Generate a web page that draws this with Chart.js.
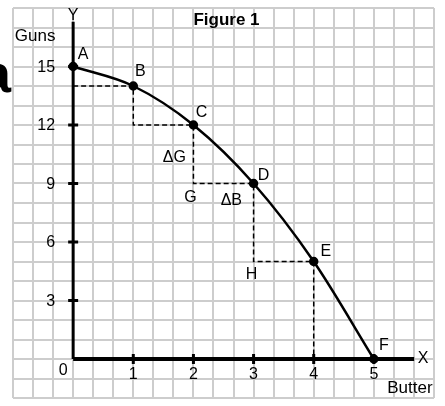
<!DOCTYPE html>
<html>
<head>
<meta charset="utf-8">
<script src="https://cdn.jsdelivr.net/npm/chart.js@4.4.0/dist/chart.umd.min.js"></script>
<style>
  html, body { margin: 0; padding: 0; background: #fff; overflow: hidden; }
  canvas { display: block; }
</style>
</head>
<body>
<canvas id="ppf" width="445" height="406"></canvas>
<script>
// production possibilities points A..F (butter, guns)
const pointNames = ['A', 'B', 'C', 'D', 'E', 'F'];
const butter = [0, 1, 2, 3, 4, 5];
const guns = [15, 14, 12, 9, 5, 0];
// dashed staircase from the Y axis through B..E down to the X axis
const stepX = [0, 1, 1, 2, 2, 3, 3, 4, 4];
const stepY = [14, 14, 12, 12, 9, 9, 5, 5, 0];
const xTickLabels = ['1', '2', '3', '4', '5'];
const yTickLabels = ['3', '6', '9', '12', '15'];

const FONT = '"Liberation Sans", Arial, sans-serif';

function pts(xs, ys) {
  return xs.map((x, i) => ({ x, y: ys[i] }));
}

// text labels placed with the scales
const labelsPlugin = {
  id: 'labels',
  afterDatasetsDraw(chart) {
    const { ctx, scales: { x, y } } = chart;
    const put = (txt, px, py, opts = {}) => {
      ctx.save();
      ctx.font = (opts.bold ? 'bold ' : '') + (opts.size || 16) + 'px ' + FONT;
      ctx.fillStyle = '#000';
      ctx.textAlign = opts.align || 'center';
      ctx.textBaseline = 'middle';
      ctx.fillText(txt, px, py);
      ctx.restore();
    };
    const x0 = x.getPixelForValue(0);
    const y0 = y.getPixelForValue(0);

    // point letters, offset up-right of each point
    const off = [[10, -12], [7, -14], [8, -12], [10, -8], [12, -10], [10, -13]];
    pointNames.forEach((n, i) => {
      put(n, x.getPixelForValue(butter[i]) + off[i][0], y.getPixelForValue(guns[i]) + off[i][1]);
    });

    put('\u0394G', x.getPixelForValue(2) - 19, y.getPixelForValue(10.35));
    put('G', x.getPixelForValue(2) - 3, y.getPixelForValue(8.3));
    put('\u0394B', x.getPixelForValue(2.63), y.getPixelForValue(8.1));
    put('H', x.getPixelForValue(3) - 2, y.getPixelForValue(4.35));

    // tick labels
    xTickLabels.forEach((t) => put(t, x.getPixelForValue(+t), y0 + 16));
    yTickLabels.forEach((t) => put(t, x0 - 18, y.getPixelForValue(+t) + 1, { align: 'right' }));
    put('0', x0 - 10, y0 + 12);

    put('Y', x0, y.getPixelForValue(17.6));
    put('X', x.getPixelForValue(5.82), y0);
    put('Guns', x0 - 38, y.getPixelForValue(16.55), { size: 17 });
    put('Butter', x.getPixelForValue(5.6), y0 + 29, { size: 17 });
    put('Figure 1', x.getPixelForValue(2.55), y.getPixelForValue(17.35), { bold: true, size: 17 });

    // cropped big letter at the left edge
    ctx.save();
    ctx.font = 'bold 54px ' + FONT;
    ctx.fillStyle = '#000';
    ctx.textAlign = 'right';
    ctx.textBaseline = 'alphabetic';
    ctx.fillText('a', 11, 92);
    ctx.restore();
  },
};

new Chart(document.getElementById('ppf'), {
  type: 'scatter',
  data: {
    datasets: [
      {
        // Y axis
        type: 'line',
        data: pts([0, 0], [0, 17.3]),
        borderColor: '#000',
        borderWidth: 3,
        pointRadius: 0,
      },
      {
        // X axis
        type: 'line',
        data: pts([0, 5.67], [0, 0]),
        borderColor: '#000',
        borderWidth: 4,
        pointRadius: 0,
      },
      {
        // y tick marks
        data: pts([0, 0, 0, 0, 0], yTickLabels.map(Number)),
        pointStyle: 'line',
        pointRadius: 5,
        borderColor: '#000',
        borderWidth: 3,
      },
      {
        // x tick marks
        data: pts(xTickLabels.map(Number), [0, 0, 0, 0, 0]),
        pointStyle: 'line',
        rotation: 90,
        pointRadius: 5,
        borderColor: '#000',
        borderWidth: 3,
      },
      {
        type: 'line',
        data: pts(stepX, stepY),
        borderColor: '#000',
        borderWidth: 1.5,
        borderDash: [5, 3],
        pointRadius: 0,
        tension: 0,
      },
      {
        type: 'line',
        data: pts(butter, guns),
        borderColor: '#000',
        borderWidth: 2.5,
        cubicInterpolationMode: 'monotone',
        pointRadius: 3.5,
        pointBackgroundColor: '#000',
        pointBorderColor: '#000',
      },
    ],
  },
  options: {
    responsive: false,
    animation: false,
    events: [],
    layout: { padding: { left: 13, right: 11, top: 3, bottom: 2 } },
    plugins: { legend: { display: false }, tooltip: { enabled: false } },
    scales: {
      x: {
        type: 'linear',
        min: -1,
        max: 6,
        afterBuildTicks(scale) {
          scale.ticks = Array.from({ length: 22 }, (_, i) => ({ value: -1 + i / 3 }));
        },
        afterFit(scale) {
          scale.height = 0;
          scale.paddingLeft = scale.paddingRight = 0;
        },
        ticks: { display: false },
        border: { display: false },
        grid: { color: '#cdcdcd', lineWidth: 2, drawTicks: false },
      },
      y: {
        type: 'linear',
        min: -2,
        max: 18,
        afterBuildTicks(scale) {
          scale.ticks = Array.from({ length: 21 }, (_, i) => ({ value: -2 + i }));
        },
        afterFit(scale) {
          scale.width = 0;
          scale.paddingTop = scale.paddingBottom = 0;
        },
        ticks: { display: false },
        border: { display: false },
        grid: { color: '#cdcdcd', lineWidth: 2, drawTicks: false },
      },
    },
  },
  plugins: [labelsPlugin],
});
</script>
</body>
</html>
